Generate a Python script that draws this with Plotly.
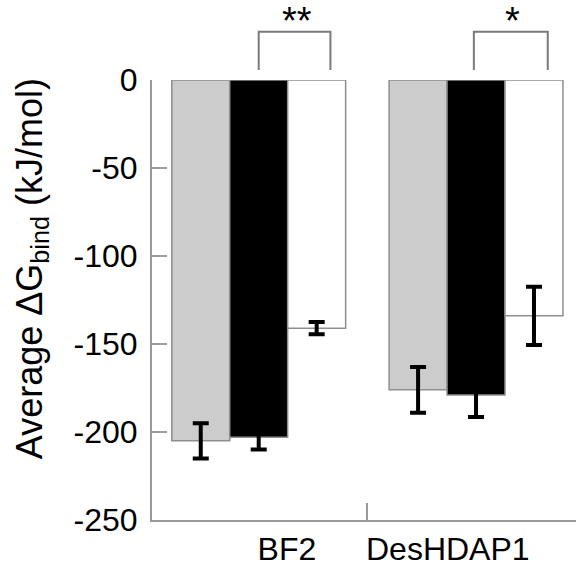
import plotly.graph_objects as go

groups = ["BF2", "DesHDAP1"]
group_pos = [0, 1]
label_pos = [0.13, 0.87]
series_names = ["Series A", "Series B", "Series C"]
series_colors = ["#cccccc", "#000000", "#ffffff"]
gray_vals = [-205, -176]
black_vals = [-203, -179]
white_vals = [-141, -134]
gray_err = [10, 13]
black_err = [7, 12.5]
white_err = [3.5, 16.5]
y_ticks = [0, -50, -100, -150, -200, -250]
y_ticktext = ["0", "-50", "-100", "-150", "-200", "-250"]
stars = ["**", "*"]
bracket_spans = [(0.0, 0.33), (0.99, 1.33)]

FONT = "Liberation Sans, Arial, sans-serif"
AXIS_GRAY = "#9a9a9a"

fig = go.Figure()
for name, vals, errs, col in zip(series_names, [gray_vals, black_vals, white_vals],
                                 [gray_err, black_err, white_err], series_colors):
    fig.add_trace(go.Bar(
        x=group_pos, y=vals, name=name,
        marker=dict(color=col, line=dict(color="#8f8f8f", width=1.5)),
        error_y=dict(type="data", array=errs, visible=True, color="black",
                     thickness=4, width=8),
        showlegend=False,
    ))

# significance brackets
for (x0, x1), s in zip(bracket_spans, stars):
    fig.add_shape(type="path", xref="x", yref="paper",
                  path=f"M {x0},1.0227 L {x0},1.1098 L {x1},1.1098 L {x1},1.0227",
                  line=dict(color="#7a7a7a", width=2))
    fig.add_annotation(x=(x0 + x1) / 2 + 0.01, y=1.082, xref="x", yref="paper",
                       text=s, showarrow=False, yanchor="bottom",
                       font=dict(size=38, family=FONT, color="black"))

fig.add_annotation(x=-0.283, y=0.57, xref="paper", yref="paper",
                   text="Average ΔG<sub>bind</sub> (kJ/mol)", textangle=-90,
                   showarrow=False, xanchor="center", yanchor="middle",
                   font=dict(size=36, family=FONT, color="black"))

fig.update_layout(
    width=576, height=571,
    margin=dict(l=152, r=0, t=80, b=51),
    paper_bgcolor="white", plot_bgcolor="white",
    barmode="group", bargap=0.2, bargroupgap=0,
    font=dict(family=FONT, size=32, color="black"),
    xaxis=dict(range=[-0.491, 1.46], tickmode="array", tickvals=label_pos,
               ticktext=groups, ticks="", showgrid=False, zeroline=False,
               showline=True, linecolor=AXIS_GRAY, linewidth=2,
               tickfont=dict(size=32, family=FONT, color="black"),
               minor=dict(tickmode="array", tickvals=[0.5], ticks="inside",
                          ticklen=17, tickcolor=AXIS_GRAY, tickwidth=1.5,
                          showgrid=False)),
    yaxis=dict(range=[-250, 0], tickmode="array", tickvals=y_ticks,
               ticktext=y_ticktext,
               ticks="inside", ticklen=15, tickcolor=AXIS_GRAY, tickwidth=1.5,
               showgrid=False, zeroline=False, showline=True,
               linecolor=AXIS_GRAY, linewidth=2, ticklabelstandoff=6,
               tickfont=dict(size=32, family=FONT, color="black")),
)

fig.write_html("out.html")
